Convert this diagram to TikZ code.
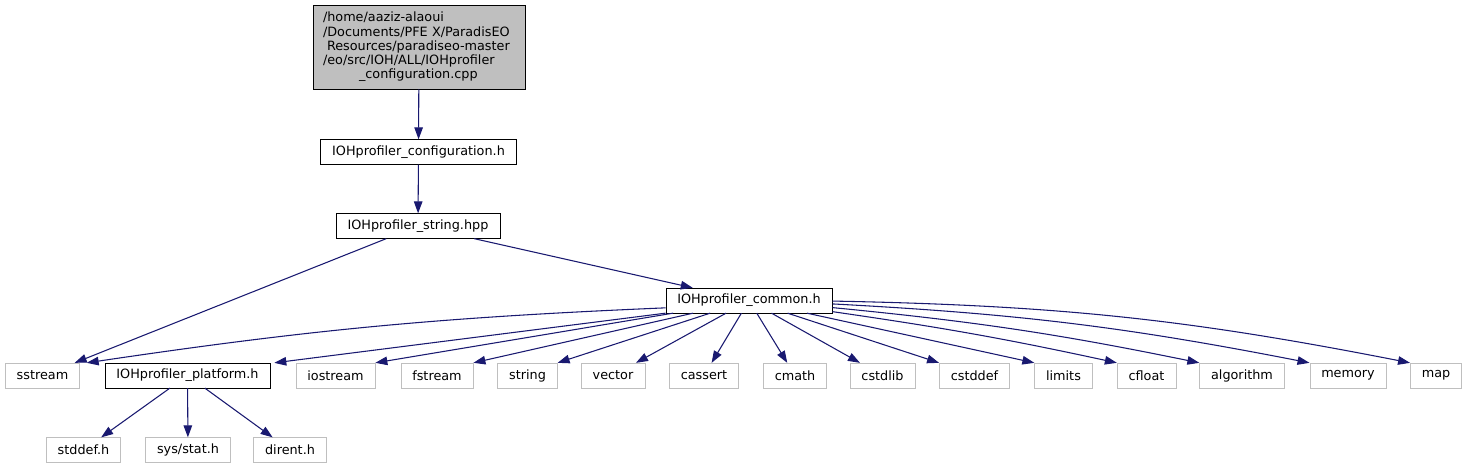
\documentclass[tikz,border=0pt]{standalone}
\usepackage{fontspec}
\setmainfont{DejaVu Sans}
\usepackage{xcolor}
\usetikzlibrary{arrows.meta}
\definecolor{inclblue}{HTML}{191970}
\definecolor{extgrey}{HTML}{BFBFBF}

\begin{document}
\begin{tikzpicture}[x=0.75pt, y=-0.75pt,
		hdr/.style={draw=black, fill=white, font=\fontsize{9.6}{11}\selectfont, inner xsep=8.6pt, inner ysep=0pt, minimum height=18.6pt},
		exthdr/.style={hdr, draw=extgrey},
		incl/.style={draw=inclblue, line width=0.8pt, -{Triangle[length=9pt,width=6.4pt]}}]
			\useasboundingbox (0,0) rectangle (1467,469);
			\node[hdr, fill=extgrey, text width=144pt, align=left, inner xsep=7.5pt, minimum height=63pt, font=\fontsize{9.6}{10.7}\selectfont]
			(cpp) at (419,47) {/home/aaziz-alaoui\\/Documents/PFE X/ParadisEO\\\hspace*{3pt}Resources/paradiseo-master\\/eo/src/IOH/ALL/IOHprofiler\\\hspace*{27pt}\_configuration.cpp};
			\node[hdr] (config) at (418.5,152) {IOHprofiler\_configuration.h};
			\node[hdr] (strhpp) at (418,226) {IOHprofiler\_string.hpp};
			\node[hdr] (common) at (749,300.5) {IOHprofiler\_common.h};
			\node[exthdr] (sstream) at (42.5,375.5) {sstream};
			\node[hdr] (platform) at (187.5,375.5) {IOHprofiler\_platform.h};
			\node[exthdr] (iostream) at (335.5,375.5) {iostream};
			\node[exthdr] (fstream) at (437,375.5) {fstream};
			\node[exthdr] (string) at (527.5,375.5) {string};
			\node[exthdr] (vector) at (613,375.5) {vector};
			\node[exthdr] (cassert) at (704,375.5) {cassert};
			\node[exthdr] (cmath) at (795,375.5) {cmath};
			\node[exthdr] (cstdlib) at (882.5,375.5) {cstdlib};
			\node[exthdr] (cstddef) at (974.5,375.5) {cstddef};
			\node[exthdr] (limits) at (1063.5,375.5) {limits};
			\node[exthdr] (cfloat) at (1146.5,375.5) {cfloat};
			\node[exthdr] (algorithm) at (1242,375.5) {algorithm};
			\node[exthdr] (memory) at (1348,375.5) {memory};
			\node[exthdr] (map) at (1436,375.5) {map};
			\node[exthdr] (stddefh) at (83.5,450) {stddef.h};
			\node[exthdr] (sysstat) at (188,450) {sys/stat.h};
			\node[exthdr] (dirent) at (290,450) {dirent.h};
			\draw[incl] (cpp) -- (config);
			\draw[incl] (config) -- (strhpp);
			\draw[incl] (strhpp) -- ([xshift=-4pt]sstream.north east);
			\draw[incl] (strhpp) -- (common);
			\draw[incl] ([yshift=4pt]common.south west) to[bend right=3] ([xshift=5pt]sstream.north east);
			\draw[incl] (common.south west) -- ([xshift=3pt]platform.north east);
			\draw[incl] (common) -- (iostream.north east);
			\draw[incl] (common) -- (fstream.north east);
			\draw[incl] (common) -- (string.north east);
			\draw[incl] (common) -- (vector);
			\draw[incl] (common) -- (cassert);
			\draw[incl] (common) -- (cmath);
			\draw[incl] (common) -- (cstdlib);
			\draw[incl] (common) -- (cstddef.north west);
			\draw[incl] (common) -- (limits.north west);
			\draw[incl] (common) to[bend left=2] (cfloat.north west);
			\draw[incl] (common) to[bend left=3] (algorithm.north west);
			\draw[incl] (common) to[bend left=4] (memory.north west);
			\draw[incl] (common) to[bend left=5] (map.north west);
			\draw[incl] (platform) -- (stddefh);
			\draw[incl] (platform) -- (sysstat);
			\draw[incl] (platform) -- (dirent);
		\end{tikzpicture}
\end{document}
